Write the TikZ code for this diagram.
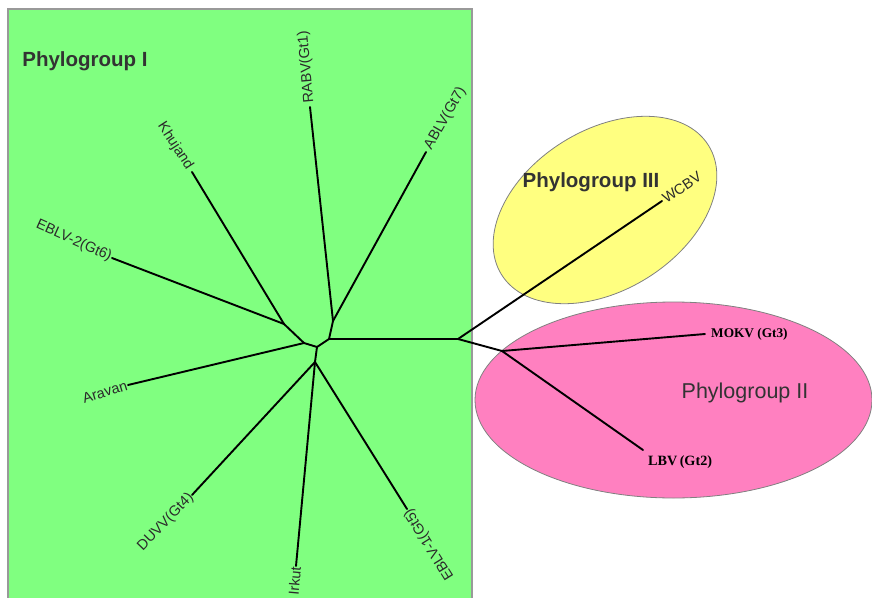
\documentclass[tikz,border=0pt]{standalone}
\usepackage{fontspec}
\setmainfont{Liberation Serif}
\setsansfont{Liberation Sans}
\definecolor{grp1}{HTML}{80FF80}
\definecolor{grp3}{HTML}{FFFF80}
\definecolor{grp2}{HTML}{FF80C0}
\definecolor{edgegray}{HTML}{999999}
\definecolor{txtgray}{HTML}{333333}
\definecolor{lblgray}{HTML}{2A2A2A}
\tikzset{
  branch/.style={line width=1.9pt, black, line cap=round, line join=round},
  lbl/.style={font=\sffamily\fontsize{14.5}{15}\selectfont, text=lblgray, inner sep=4pt},
  slbl/.style={font=\rmfamily\bfseries\fontsize{13.3}{14}\selectfont, text=black, inner sep=2pt},
  grouptitle/.style={font=\sffamily\bfseries\fontsize{20.5}{22}\selectfont, text=txtgray, inner sep=0pt},
  grouptitlereg/.style={font=\sffamily\fontsize{21.5}{22}\selectfont, text=txtgray, inner sep=0pt},
}
\begin{document}
\begin{tikzpicture}[x=1pt,y=-1pt]
\useasboundingbox (0,0) rectangle (872,597);
\begin{scope}
\clip (0,0) rectangle (872,597);
% group areas
\draw[fill=grp1, draw=edgegray, line width=1.5pt] (8,9) rectangle (472,610);
\draw[fill=grp3, draw=gray, line width=0.8pt, rotate around={32:(605,210)}] (605,210) ellipse [x radius=122pt, y radius=80pt];
\draw[fill=grp2, draw=gray, line width=0.8pt] (673.5,400) ellipse [x radius=198.5pt, y radius=98pt];
\end{scope}

% group titles
\node[grouptitle] (t1) at (85,61) {Phylogroup I};
\node[grouptitle] (t3) at (591,182) {Phylogroup III};
\node[grouptitlereg] (t2) at (745,393) {Phylogroup II};

% internal nodes
\coordinate (A) at (329,339);
\coordinate (B) at (333,321);
\coordinate (C) at (317,347);
\coordinate (D) at (315,362);
\coordinate (E) at (304,343);
\coordinate (F) at (284,324);
\coordinate (R) at (458,339);
\coordinate (G) at (502,351);
% tips
\coordinate (RABVt) at (310,107);
\coordinate (ABLVt) at (426,152);
\coordinate (KHUt) at (192,172);
\coordinate (EB2t) at (112,258);
\coordinate (ARAt) at (128,385);
\coordinate (DUVt) at (192,495);
\coordinate (IRKt) at (296,566);
\coordinate (EB1t) at (407,509);
\coordinate (WCBt) at (662,201);
\coordinate (MOKt) at (705,334);
\coordinate (LBVt) at (643,450);

% branches
\draw[branch] (A) -- (R);
\draw[branch] (A) -- (B);
\draw[branch] (B) -- (RABVt);
\draw[branch] (B) -- (ABLVt);
\draw[branch] (A) -- (C);
\draw[branch] (C) -- (D);
\draw[branch] (C) -- (E);
\draw[branch] (E) -- (F);
\draw[branch] (F) -- (KHUt);
\draw[branch] (F) -- (EB2t);
\draw[branch] (E) -- (ARAt);
\draw[branch] (D) -- (DUVt);
\draw[branch] (D) -- (IRKt);
\draw[branch] (D) -- (EB1t);
\draw[branch] (R) -- (WCBt);
\draw[branch] (R) -- (G);
\draw[branch] (G) -- (MOKt);
\draw[branch] (G) -- (LBVt);

% tip labels
\node[lbl, anchor=west, rotate=95] (rabv) at (RABVt) {RABV(Gt1)};
\node[lbl, anchor=west, rotate=60] (ablv) at (ABLVt) {ABLV(Gt7)};
\node[lbl, anchor=east, rotate=-57] (khu) at (KHUt) {Khujand};
\node[lbl, anchor=east, rotate=-24, inner sep=1pt] (eb2) at (EB2t) {EBLV-2(Gt6)};
\node[lbl, anchor=east, rotate=17, inner sep=1pt] (ara) at (ARAt) {Aravan};
\node[lbl, anchor=east, rotate=46, inner sep=1pt] (duv) at (DUVt) {DUVV(Gt4)};
\node[lbl, anchor=east, rotate=85, inner sep=1pt] (irk) at (IRKt) {Irkut};
\node[lbl, anchor=east, rotate=122, inner sep=1pt] (eb1) at (EB1t) {EBLV-1(Gt5)};
\node[lbl, anchor=west, rotate=34, inner sep=2pt] (wcb) at (WCBt) {WCBV};
\node[slbl, anchor=west, xshift=4pt] (mok) at (MOKt) {MOKV (Gt3)};
\node[slbl, anchor=north west, font=\rmfamily\bfseries\fontsize{14.2}{15}\selectfont, xshift=3pt, yshift=-3pt] (lbv) at (LBVt) {LBV\,(Gt2)};
\end{tikzpicture}
\end{document}
